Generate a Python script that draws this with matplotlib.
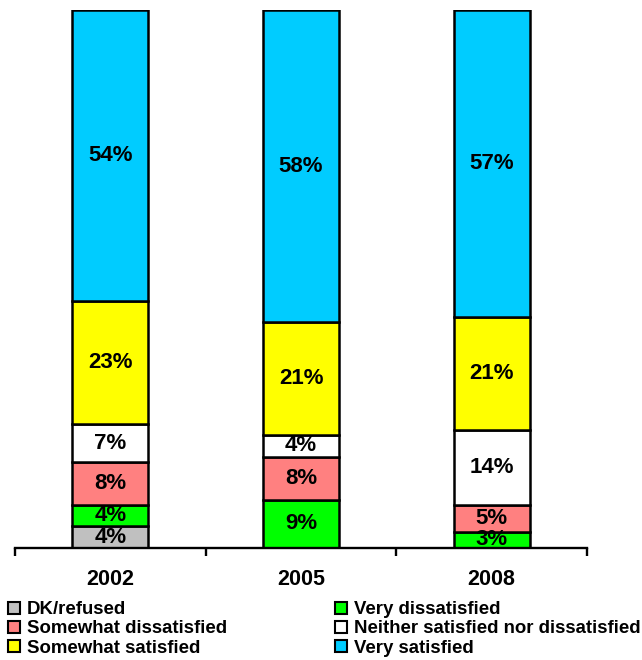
import matplotlib
matplotlib.use("Agg")
import matplotlib.pyplot as plt
from matplotlib.patches import Patch

plt.rcParams["font.family"] = ["Liberation Sans", "DejaVu Sans"]
plt.rcParams["font.weight"] = "bold"

years = ["2002", "2005", "2008"]
series = ["DK/refused", "Very dissatisfied", "Somewhat dissatisfied",
          "Neither satisfied nor dissatisfied", "Somewhat satisfied", "Very satisfied"]
dk_refused = [4, 0, 0]
very_dissatisfied = [4, 9, 3]
somewhat_dissatisfied = [8, 8, 5]
neither = [7, 4, 14]
somewhat_satisfied = [23, 21, 21]
very_satisfied = [54, 58, 57]
values = [dk_refused, very_dissatisfied, somewhat_dissatisfied,
          neither, somewhat_satisfied, very_satisfied]
colors = ["#C0C0C0", "#00FF00", "#FF8080", "#FFFFFF", "#FFFF00", "#00CCFF"]

fig = plt.figure(figsize=(6.42, 6.6), dpi=100)
ax = fig.add_axes([15 / 642, 112 / 660, 572 / 642, 538 / 660])

x = list(range(len(years)))
bottoms = [0] * len(years)
for name, vals, c in zip(series, values, colors):
    ax.bar(x, vals, width=0.4, bottom=bottoms, color=c, edgecolor="black",
           linewidth=1.8, label=name, zorder=2)
    for i, v in enumerate(vals):
        if v > 0:
            ax.text(i, bottoms[i] + v / 2, f"{v}%", ha="center", va="center",
                    fontsize=16, fontweight="bold", zorder=3)
    bottoms = [b + v for b, v in zip(bottoms, vals)]

ax.set_xlim(-0.5, 2.5)
ax.set_ylim(0, 100)
for s in ["left", "right", "top"]:
    ax.spines[s].set_visible(False)
ax.spines["bottom"].set_linewidth(1.7)
ax.set_yticks([])
ax.set_xticks(x)
ax.set_xticklabels(years, fontsize=15.5, fontweight="bold")
ax.tick_params(axis="x", which="major", length=0, pad=15)
ax.set_xticks([-0.5, 0.5, 1.5, 2.5], minor=True)
ax.tick_params(axis="x", which="minor", length=6, width=1.7, direction="out")

legend_kw = dict(loc="upper left", frameon=False, fontsize=13.4, handlelength=0.62,
                 handleheight=0.62, handletextpad=0.4, labelspacing=0.12,
                 borderaxespad=0, borderpad=0)
for col, x0 in [([0, 2, 4], 8 / 642), ([1, 3, 5], 335 / 642)]:
    handles = [Patch(facecolor=colors[i], edgecolor="black", linewidth=1.5) for i in col]
    fig.legend(handles, [series[i] for i in col], bbox_to_anchor=(x0, 0.089), **legend_kw)

fig.savefig("out.png", dpi=100)
